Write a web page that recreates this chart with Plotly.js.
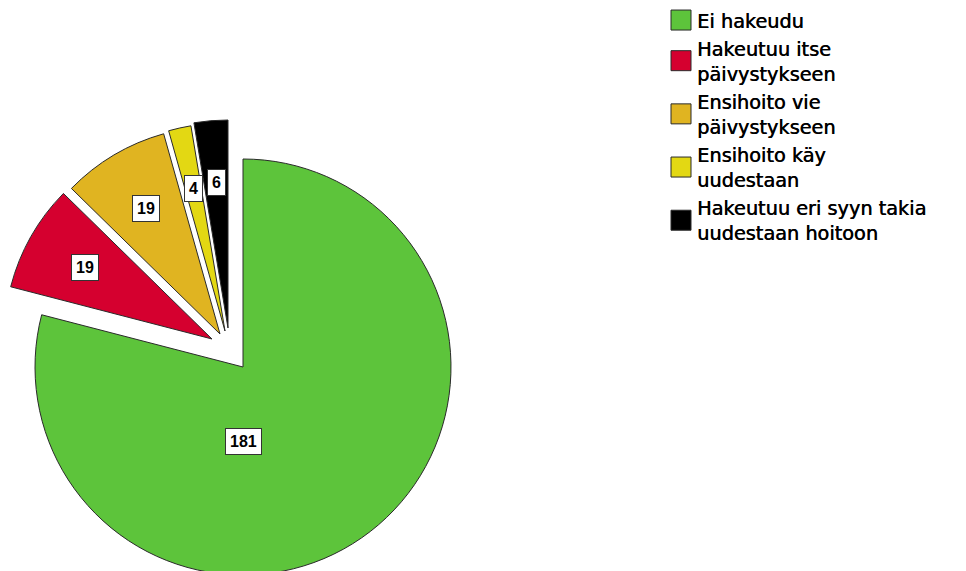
<!DOCTYPE html>
<html>
<head>
<meta charset="utf-8">
<script src="https://cdn.plot.ly/plotly-3.0.1.min.js"></script>
<style>
html, body { margin: 0; padding: 0; overflow: hidden; background: #fff; }
#chart { width: 966px; height: 620px; }
</style>
</head>
<body>
<div id="chart"></div>
<script>
// ---- data ----
const categories = [
  "Ei hakeudu",
  "Hakeutuu itse<br>päivystykseen",
  "Ensihoito vie<br>päivystykseen",
  "Ensihoito käy<br>uudestaan",
  "Hakeutuu eri syyn takia<br>uudestaan hoitoon"
];
const counts = [181, 19, 19, 4, 6];

// ---- styles ----
const sliceColors = ["#5DC43B", "#D5002F", "#E0B421", "#E3D813", "#000000"];
// exploded-slice offsets in pixels (dx, dy), screen coordinates
const explodeDX = [0, -31, -23, -18, -15];
const explodeDY = [0, -28, -33, -36, -39];
const lineColor = "#2a2a2a";

const W = 966, H = 620;
// base pie: centre (243, 367), radius 208 px
const baseX0 = 35, baseX1 = 451, baseY0 = 159, baseY1 = 575;

function dom(dx, dy) {
  return {
    x: [(baseX0 + dx) / W, (baseX1 + dx) / W],
    y: [1 - (baseY1 + dy) / H, 1 - (baseY0 + dy) / H]
  };
}

const traces = [];
// legend carrier (tiny, placed below the visible window)
traces.push({
  type: "pie", labels: categories, values: counts, sort: false,
  direction: "clockwise", rotation: 0, textinfo: "none", hoverinfo: "skip",
  marker: { colors: sliceColors, line: { color: lineColor, width: 1 } },
  domain: { x: [0.995, 1], y: [0, 0.005] },
  showlegend: true
});
// one trace per drawn slice, each exploded by its own offset
counts.forEach(function (v, i) {
  traces.push({
    type: "pie", labels: categories, values: counts, sort: false,
    direction: "clockwise", rotation: 0, textinfo: "none",
    hoverinfo: "label+value",
    marker: {
      colors: sliceColors.map((c, j) => j === i ? c : "rgba(0,0,0,0)"),
      line: { color: lineColor, width: counts.map((_, j) => j === i ? 1 : 0) }
    },
    domain: dom(explodeDX[i], explodeDY[i]),
    showlegend: false
  });
});

const layout = {
  width: W, height: H,
  margin: { l: 0, r: 0, t: 0, b: 0 },
  paper_bgcolor: "#ffffff",
  showlegend: true,
  legend: {
    x: 657 / W, xanchor: "left",
    y: 1 - 1 / H, yanchor: "top",
    font: { family: "DejaVu Sans, Arial, sans-serif", size: 19.3, color: "#000", shadow: "0.5px 0 0 #000" },
    bgcolor: "rgba(0,0,0,0)",
    valign: "middle"
  }
};

const gd = document.getElementById("chart");
Plotly.newPlot(gd, traces, layout, { displayModeBar: false, staticPlot: true }).then(function () {
  const total = counts.reduce((a, b) => a + b, 0);
  const biggest = counts.indexOf(Math.max.apply(null, counts));
  let cum = 0;
  const anns = counts.map(function (v, i) {
    const cd0 = gd.calcdata[i + 1][0];
    const cx = cd0.cx, cy = cd0.cy, r = cd0.r;
    const a0 = cum / total * 2 * Math.PI;
    cum += v;
    const a1 = cum / total * 2 * Math.PI;
    let ang = (a0 + a1) / 2, dist = 0.70 * r;
    if (i === biggest) { ang = Math.PI; dist = 0.36 * r; }
    const px = cx + dist * Math.sin(ang);
    const py = cy - dist * Math.cos(ang);
    return {
      xref: "paper", yref: "paper",
      x: px / W, y: 1 - py / H,
      xanchor: "center", yanchor: "middle",
      text: "<b>" + v + "</b>",
      showarrow: false,
      font: { family: "Arial, Liberation Sans, sans-serif", size: 16, color: "#000" },
      bgcolor: "#ffffff",
      bordercolor: "#333333",
      borderwidth: 1,
      borderpad: 4
    };
  });
  return Plotly.relayout(gd, { annotations: anns });
}).then(function () {
  document.querySelectorAll(".legendpoints path").forEach(function (p) {
    p.removeAttribute("transform");
    p.setAttribute("d", "M34,10H14V-10H34Z");
  });
});
</script>
</body>
</html>
